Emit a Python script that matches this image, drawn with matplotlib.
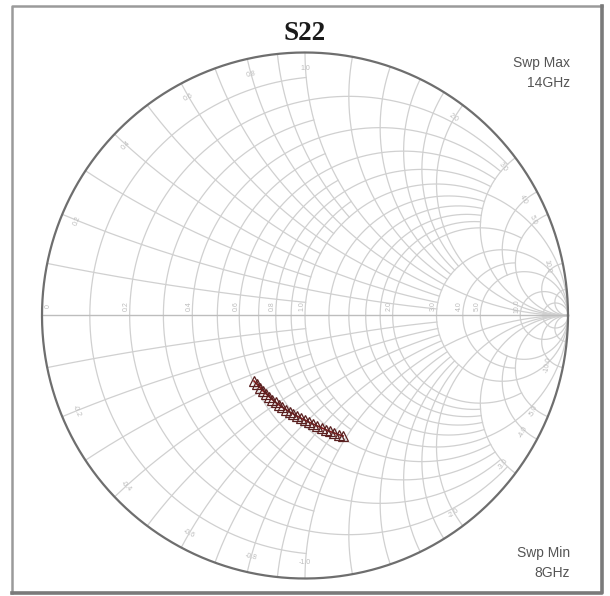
import numpy as np
import matplotlib
matplotlib.use("Agg")
import matplotlib.pyplot as plt
from matplotlib.lines import Line2D

# ---- data: S22 sweep, 8 GHz -> 14 GHz (reflection coefficient, real / imag) ----
freq_ghz = [8.0, 8.25, 8.5, 8.75, 9.0, 9.25, 9.5, 9.75, 10.0, 10.25, 10.5, 10.75,
            11.0, 11.25, 11.5, 11.75, 12.0, 12.25, 12.5, 12.75, 13.0, 13.25,
            13.5, 13.75, 14.0]
s22_re = [0.145, 0.128, 0.112, 0.095, 0.079, 0.063, 0.047, 0.031, 0.016, 0.001,
          -0.014, -0.029, -0.044, -0.058, -0.072, -0.086, -0.099, -0.112, -0.124,
          -0.136, -0.148, -0.160, -0.171, -0.182, -0.194]
s22_im = [-0.458, -0.453, -0.447, -0.441, -0.434, -0.427, -0.420, -0.413, -0.406,
          -0.398, -0.391, -0.383, -0.375, -0.367, -0.358, -0.349, -0.340, -0.330,
          -0.320, -0.309, -0.298, -0.286, -0.274, -0.262, -0.249]

title = "S22"
sweep_max = ("Swp Max", "14GHz")
sweep_min = ("Swp Min", "8GHz")

# ---- Smith chart grid values: (value, limit of the other coordinate) ----
INF = np.inf
r_grid = [(0.1, 1.0), (0.2, 3.0), (0.3, 1.0), (0.4, 3.0), (0.5, 1.0), (0.6, 3.0),
          (0.7, 1.0), (0.8, 3.0), (0.9, 1.0), (1.0, INF), (1.2, 3.0), (1.4, 3.0),
          (1.6, 3.0), (1.8, 3.0), (2.0, 5.0), (3.0, INF), (4.0, 5.0),
          (5.0, INF), (10.0, INF), (20.0, INF)]
x_grid = [(0.1, 1.0), (0.2, 3.0), (0.3, 1.0), (0.4, 3.0), (0.5, 1.0), (0.6, 3.0),
          (0.7, 1.0), (0.8, 3.0), (0.9, 1.0), (1.0, INF), (1.2, 3.0), (1.4, 3.0),
          (1.6, 3.0), (1.8, 3.0), (2.0, INF), (3.0, INF), (4.0, 5.0),
          (5.0, INF), (10.0, INF), (20.0, INF)]
# labelled grid values
r_labels = [0.2, 0.4, 0.6, 0.8, 1.0, 2.0, 3.0, 4.0, 5.0, 10.0]
x_labels = [0.2, 0.4, 0.6, 0.8, 1.0, 2.0, 3.0, 4.0, 5.0, 10.0]

GRID_C = "#d0d0d0"
GRID_LW = 0.9
LABEL_C = "#bcbcbc"

W, H, DPI = 610, 596, 100
fig = plt.figure(figsize=(W / DPI, H / DPI), dpi=DPI)
fig.patch.set_facecolor("white")

# chart centre and unit radius in pixels
cx, cy, rad = 305.0, 315.5, 263.0
lim = 1.06
ax = fig.add_axes([(cx - lim * rad) / W, (H - cy - lim * rad) / H,
                   2 * lim * rad / W, 2 * lim * rad / H])
ax.set_xlim(-lim, lim)
ax.set_ylim(-lim, lim)
ax.axis("off")


def gamma(z):
    return (z - 1) / (z + 1)


def stretch(limit, n=600):
    # parameter samples spread evenly in angle, from 0 to limit (limit may be inf)
    t_end = np.arctan(limit) if np.isfinite(limit) else np.pi / 2 - 1e-4
    return np.tan(np.linspace(0, t_end, n))


# resistance circles
for r, xlim_ in r_grid:
    xs = stretch(xlim_)
    xs = np.concatenate([-xs[::-1], xs])
    g = gamma(r + 1j * xs)
    ax.plot(g.real, g.imag, color=GRID_C, lw=GRID_LW, zorder=1)

# reactance arcs
for x, rlim in x_grid:
    rs = stretch(rlim)
    for sgn in (1, -1):
        g = gamma(rs + 1j * sgn * x)
        ax.plot(g.real, g.imag, color=GRID_C, lw=GRID_LW, zorder=1)

# real axis and outer circle
ax.plot([-1, 1], [0, 0], color="#bdbdbd", lw=1.0, zorder=1)
th = np.linspace(0, 2 * np.pi, 800)
ax.plot(np.cos(th), np.sin(th), color="#6e6e6e", lw=1.6, zorder=2)

# grid labels: resistance along the real axis, reactance inside the rim
lab_kw = dict(fontsize=5, color=LABEL_C, family="Liberation Sans",
              ha="center", va="center", zorder=1.5)
for r in r_labels:
    g = gamma(complex(r, 0))
    ax.text(g.real - 0.012, 0.035, f"{r:.1f}", rotation=90, **lab_kw)
ax.text(-0.975, 0.035, "0", rotation=90, **lab_kw)
for x in x_labels:
    for sgn in (1, -1):
        g = gamma(complex(0, sgn * x))
        ang = np.angle(g)
        p = 0.94 * np.exp(1j * ang)
        rot = np.degrees(ang) - 90
        if rot < -90:
            rot += 180
        ax.text(p.real, p.imag, f"{sgn * x:.1f}", rotation=rot, **lab_kw)

# trace
ax.plot(s22_re, s22_im, color="#8b1a1a", lw=1.2, zorder=3)
ax.plot(s22_re, s22_im, ls="none", marker="^", ms=7, mfc="none",
        mec="#5a2020", mew=0.9, zorder=4)

# frame: light left/top edges, darker right/bottom edges
x0, x1, y0, y1 = 12 / W, 602 / W, 1 - 593 / H, 1 - 6 / H
fig.lines.append(Line2D([x0, x0, x1], [y0, y1, y1], transform=fig.transFigure,
                        color="#9a9a9a", lw=1.8))
fig.lines.append(Line2D([x0, x1, x1], [y0, y0, y1], transform=fig.transFigure,
                        color="#7a7a7a", lw=2.6))

# texts
fig.text(cx / W, 1 - 34 / H, title, ha="center", va="center",
         family="Liberation Serif", weight="bold", fontsize=19.5, color="#1a1a1a")
txt_kw = dict(ha="right", va="center", family="Liberation Sans", fontsize=10,
              color="#555555")
fig.text(570 / W, 1 - 63 / H, sweep_max[0], **txt_kw)
fig.text(570 / W, 1 - 83 / H, sweep_max[1], **txt_kw)
fig.text(570 / W, 1 - 553 / H, sweep_min[0], **txt_kw)
fig.text(570 / W, 1 - 573 / H, sweep_min[1], **txt_kw)

fig.savefig("out.png", dpi=DPI)
